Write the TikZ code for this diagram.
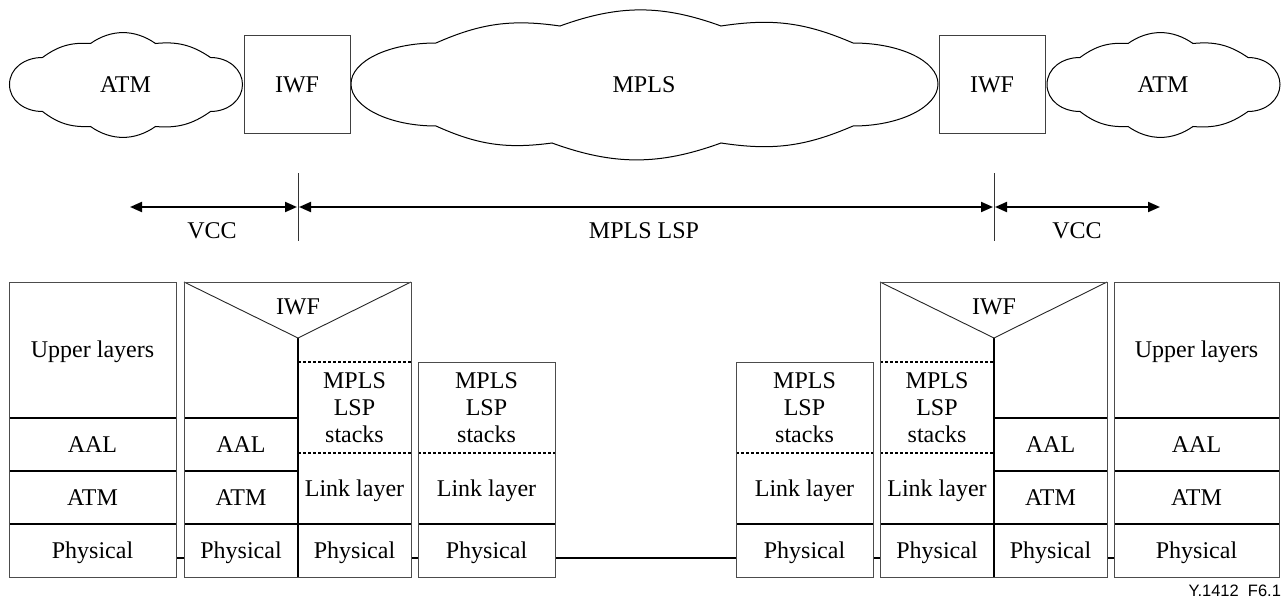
\documentclass[tikz,border=0pt]{standalone}
\usepackage{fontspec}
\setmainfont{Liberation Serif}
\newfontfamily\labelfont{Liberation Sans}
\usetikzlibrary{arrows.meta,calc}
\tikzset{
  atmcloud/.pic={
    \draw[cloudline] (-116,0) .. controls (-116,-16) and (-101,-27) .. (-83,-27)
      to[bend left=20] (-35,-41) to[bend left=35] (30,-41) to[bend left=20] (85,-27)
      .. controls (103,-27) and (117,-15) .. (117,0)
      .. controls (117,15) and (103,27) .. (85,27)
      to[bend left=20] (30,42) to[bend left=35] (-35,42) to[bend left=20] (-83,27)
      .. controls (-101,27) and (-116,16) .. (-116,0) -- cycle;
  }
}
\begin{document}
\begin{tikzpicture}[x=1pt,y=-1pt,
  every node/.style={inner sep=0pt, outer sep=0pt},
  lab/.style={font=\fontsize{24}{26.7}\selectfont, text height=15.9pt, text depth=0pt},
  mlab/.style={font=\fontsize{24}{26.7}\selectfont, align=center},
  cellbox/.style 2 args={minimum width=#1pt, minimum height=#2pt},
  brd/.style={draw=black!70, line width=0.9pt},
  thk/.style={draw=black, line width=1.6pt},
  dotl/.style={draw=black, line width=1.5pt, dash pattern=on 3pt off 2pt},
  vline/.style={draw=black!85, line width=0.9pt},
  plink/.style={draw=black, line width=1.5pt},
  cloudline/.style={draw=black, line width=1pt},
  dimarrow/.style={draw=black, line width=2pt, {Triangle[length=12pt,width=10pt]}-{Triangle[length=12pt,width=10pt]}},
  tickline/.style={draw=black!80, line width=1pt}
]
\useasboundingbox (0,0) rectangle (1284,599);

% ---------- top: networks ----------
\pic at (125.5,84.5) {atmcloud};
\pic at (1163,84.5) {atmcloud};
\draw[cloudline] (351,84) .. controls (351,61) and (389,43) .. (436,43)
  to[bend left=16] (560,26) to[bend left=20] (721,26) to[bend left=16] (853,43)
  .. controls (900,43) and (938,61) .. (938,84)
  .. controls (938,107) and (900,126) .. (853,126)
  to[bend left=16] (721,143) to[bend left=20] (552,143) to[bend left=16] (436,126)
  .. controls (389,126) and (351,107) .. (351,84) -- cycle;

\node[lab] (atmA) at (125.5,85) {ATM};
\node[lab] (mplsC) at (644,85) {MPLS};
\node[lab] (atmB) at (1163,85) {ATM};
\node[lab, cellbox={106}{98}, draw=black!75, line width=0.9pt] (iwfA) at (297,84.5) {IWF};
\node[lab, cellbox={106}{98}, draw=black!75, line width=0.9pt] (iwfB) at (992,84.5) {IWF};

% ---------- dimension arrows ----------
\coordinate (dA) at (130,207);
\coordinate (dB) at (298,207);
\coordinate (dC) at (994,207);
\coordinate (dD) at (1160,207);
\draw[dimarrow, shorten >=1pt] (dA) -- (dB);
\draw[dimarrow, shorten <=1pt, shorten >=1pt] (dB) -- (dC);
\draw[dimarrow, shorten <=1pt] (dC) -- (dD);
\draw[tickline] ($(dB)+(0,-34)$) -- ($(dB)+(0,34)$);
\draw[tickline] ($(dC)+(0,-34)$) -- ($(dC)+(0,34)$);
\node[lab] (vccA) at (212,231) {VCC};
\node[lab] (lspL) at (644,231) {MPLS LSP};
\node[lab] (vccB) at (1077,231) {VCC};

% ---------- protocol stacks ----------
% left end system
\node[lab, cellbox={167}{136}] (up1) at (92.5,350) {Upper layers};
\node[lab, cellbox={167}{53}] (aal1) at (92.5,444.5) {AAL};
\node[lab, cellbox={167}{53}] (atm1) at (92.5,497.5) {ATM};
\node[lab, cellbox={167}{53}] (ph1) at (92.5,550.5) {Physical};
% left IWF
\node[lab] (iwf2) at (298,307) {IWF};
\coordinate (apx2) at (298,338);
\node[lab, cellbox={114}{53}] (aal2) at (241,444.5) {AAL};
\node[lab, cellbox={114}{53}] (atm2) at (241,497.5) {ATM};
\node[lab, cellbox={114}{53}] (ph2) at (241,550.5) {Physical};
\node[mlab, cellbox={113}{91}] (mpls2) at (354.5,407.5) {MPLS\\LSP\\stacks};
\node[lab, cellbox={113}{71}] (link2) at (354.5,488.5) {Link layer};
\node[lab, cellbox={113}{53}] (ph2b) at (354.5,550.5) {Physical};
% left LSR
\node[mlab, cellbox={137}{91}] (mpls3) at (486.5,407.5) {MPLS\\LSP\\stacks};
\node[lab, cellbox={137}{71}] (link3) at (486.5,488.5) {Link layer};
\node[lab, cellbox={137}{53}] (ph3) at (486.5,550.5) {Physical};
% right LSR
\node[mlab, cellbox={137}{91}] (mpls4) at (804.5,407.5) {MPLS\\LSP\\stacks};
\node[lab, cellbox={137}{71}] (link4) at (804.5,488.5) {Link layer};
\node[lab, cellbox={137}{53}] (ph4) at (804.5,550.5) {Physical};
% right IWF
\node[lab] (iwf5) at (994,307) {IWF};
\coordinate (apx5) at (994,338);
\node[mlab, cellbox={114}{91}] (mpls5) at (937,407.5) {MPLS\\LSP\\stacks};
\node[lab, cellbox={114}{71}] (link5) at (937,488.5) {Link layer};
\node[lab, cellbox={114}{53}] (ph5) at (937,550.5) {Physical};
\node[lab, cellbox={113}{53}] (aal5) at (1050.5,444.5) {AAL};
\node[lab, cellbox={113}{53}] (atm5) at (1050.5,497.5) {ATM};
\node[lab, cellbox={113}{53}] (ph5b) at (1050.5,550.5) {Physical};
% right end system
\node[lab, cellbox={165}{136}] (up6) at (1196.5,350) {Upper layers};
\node[lab, cellbox={165}{53}] (aal6) at (1196.5,444.5) {AAL};
\node[lab, cellbox={165}{53}] (atm6) at (1196.5,497.5) {ATM};
\node[lab, cellbox={165}{53}] (ph6) at (1196.5,550.5) {Physical};

% physical links
\coordinate (ly) at (0,558);
\draw[plink] (ph1.east |- ly) -- (ph2.west |- ly);
\draw[plink] (ph2b.east |- ly) -- (ph3.west |- ly);
\draw[plink] (ph3.east |- ly) -- (ph4.west |- ly);
\draw[plink] (ph4.east |- ly) -- (ph5.west |- ly);
\draw[plink] (ph5b.east |- ly) -- (ph6.west |- ly);

% inner lines
\foreach \n in {aal1,atm1,ph1,aal2,atm2,ph2,ph2b,ph3,ph4,ph5,aal5,atm5,ph5b,aal6,atm6,ph6}
  \draw[thk] (\n.north west) -- (\n.north east);
\foreach \n in {mpls2,link2,link3,link4,mpls5,link5}
  \draw[dotl] (\n.north west) -- (\n.north east);
\draw[thk] (ph2.south east) -- (apx2);
\draw[thk] (ph5.south east) -- (apx5);
\draw[vline] (aal2.west |- up1.north) -- (apx2) -- (ph2b.east |- up1.north);
\draw[vline] (mpls5.west |- up6.north) -- (apx5) -- (ph5b.east |- up6.north);

% outer borders
\draw[brd] (up1.north west) rectangle (ph1.south east);
\draw[brd] (aal2.west |- up1.north) rectangle (ph2b.south east);
\draw[brd] (mpls3.north west) rectangle (ph3.south east);
\draw[brd] (mpls4.north west) rectangle (ph4.south east);
\draw[brd] (mpls5.west |- up6.north) rectangle (ph5b.south east);
\draw[brd] (up6.north west) rectangle (ph6.south east);

\node[font=\labelfont\fontsize{16.5}{19}\selectfont, anchor=base east] (figid) at (1281,596) {Y.1412\ \ F6.1};
\end{tikzpicture}
\end{document}
